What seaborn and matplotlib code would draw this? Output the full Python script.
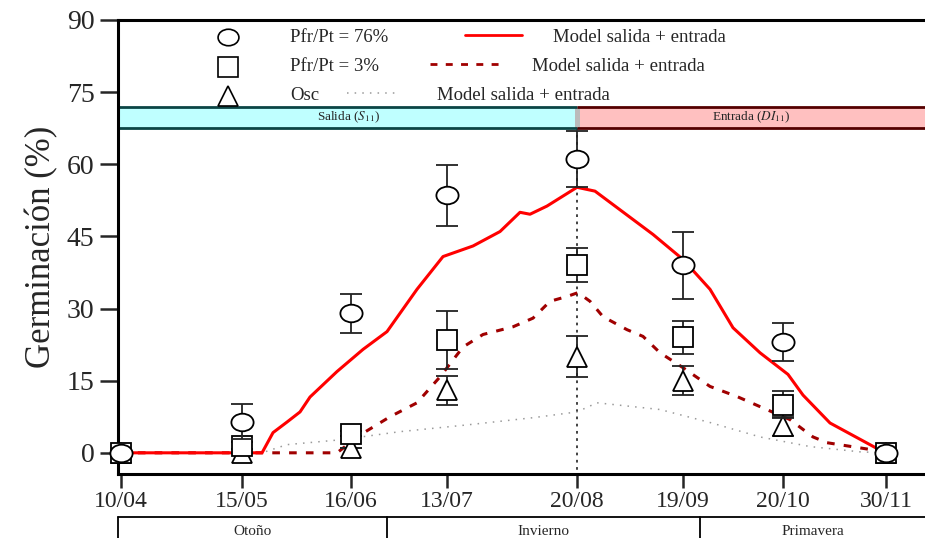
import numpy as np
import pandas as pd
import seaborn as sns
import matplotlib.pyplot as plt
from matplotlib.path import Path
from matplotlib.transforms import Affine2D, blended_transform_factory
from matplotlib.patches import Rectangle

# fechas de muestreo y su posicion en el eje (tiempo acumulado)
fechas = ["10/04", "15/05", "16/06", "13/07", "20/08", "19/09", "20/10", "30/11"]
t_fechas = [0, 121, 230, 326, 456, 562, 662, 765]

# germinacion observada (%) y desvio
pfr76 = [0, 6.5, 29, 53.5, 61, 39, 23, 0]
pfr76_err = [0, 3.7, 4, 6.3, 5.8, 7, 4, 0]
pfr3 = [0, 1.5, 4, 23.5, 39, 24, 10, 0]
pfr3_err = [0, 0.7, 0.5, 6, 3.5, 3.5, 2.8, 0]
osc = [0, 0, 1, 13, 20, 15, 5.5, 0]
osc_err = [0, 0, 0, 3, 4.3, 3, 2, 0]

# modelo salida + entrada
mod76_t = [0, 141, 152, 166, 179, 189, 216, 242, 266, 296, 322, 352, 379, 399, 409, 426,
           456, 474, 532, 562, 589, 612, 639, 667, 682, 709, 764]
mod76_y = [0, 0, 4.2, 6.4, 8.5, 11.6, 16.9, 21.5, 25.2, 34, 40.8, 43, 46, 50, 49.6, 51.3,
           55.2, 54.4, 45.4, 40.2, 34, 26, 20.8, 16.3, 12, 6.2, 0]
mod3_t = [0, 216, 239, 269, 296, 319, 342, 362, 392, 412, 429, 446, 457, 469, 482, 506,
          522, 539, 562, 589, 616, 639, 669, 692, 706, 752, 764]
mod3_y = [0, 0, 3.7, 7.5, 10.4, 15.8, 22, 24.6, 26.2, 28, 31.5, 32.5, 33.3, 31.5, 28.3, 25.6,
          24.2, 20.8, 17.7, 13.8, 11.7, 9.6, 6.9, 3.3, 2.1, 0.6, 0]
modosc_t = [0, 141, 166, 219, 279, 346, 412, 456, 476, 539, 589, 639, 689, 739, 764]
modosc_y = [0, 0, 1.7, 2.7, 4.4, 5.8, 7.3, 8.5, 10.4, 9, 6.3, 3.3, 1.3, 0.2, 0]

# estaciones
estaciones = ["Otoño", "Invierno", "Primavera"]
limites_est = [-3, 266, 579, 804]
t_cambio = 456  # salida -> entrada

sns.set_style("ticks")
plt.rcParams['font.family'] = ['Liberation Serif', 'DejaVu Serif']
plt.rcParams['mathtext.fontset'] = 'stix'

fig = plt.figure(figsize=(9.25, 5.38), dpi=100)
ax = fig.add_axes([0.1276, 0.119, 0.8724, 0.844])

# curvas del modelo
df_mod = pd.concat([
    pd.DataFrame({"t": mod76_t, "g": mod76_y, "serie": "76"}),
    pd.DataFrame({"t": mod3_t, "g": mod3_y, "serie": "3"}),
    pd.DataFrame({"t": modosc_t, "g": modosc_y, "serie": "osc"}),
])
sns.lineplot(data=df_mod[df_mod.serie == "osc"], x="t", y="g", color="#9a9a9a", lw=1.1,
             linestyle=(0, (1, 4)), ax=ax, sort=False, zorder=2)
sns.lineplot(data=df_mod[df_mod.serie == "3"], x="t", y="g", color="#a00000", lw=2.2,
             linestyle=(0, (2.5, 3)), ax=ax, sort=False, zorder=3)
sns.lineplot(data=df_mod[df_mod.serie == "76"], x="t", y="g", color="red", lw=2.2,
             ax=ax, sort=False, zorder=3)

# linea vertical en el cambio
ax.vlines(t_cambio, -5, 67.5, colors="#333333", linestyles=(0, (1.5, 2.5)), lw=1.3, zorder=1)

# observados con barras de error (triangulos abajo, circulos arriba)
elipse = Path.unit_circle().transformed(Affine2D().scale(1.2, 0.95))
obs = [(osc, osc_err, "^", 14), (pfr3, pfr3_err, "s", 14), (pfr76, pfr76_err, elipse, 16)]
for k, (vals, err, mk, ms) in enumerate(obs):
    ax.errorbar(t_fechas, vals, yerr=err, fmt="none", ecolor="#222222", elinewidth=1.3,
                capsize=8, capthick=1.3, zorder=4 + 2 * k)
    ax.plot(t_fechas, vals, linestyle="none", marker=mk, ms=ms, mfc="white", mec="black",
            mew=1.3, zorder=5 + 2 * k, clip_on=False)

# banda salida / entrada
ax.add_patch(Rectangle((-3, 67.6), t_cambio + 3, 4.3, facecolor="#bfffff", edgecolor="none", zorder=1))
ax.add_patch(Rectangle((t_cambio, 67.6), 810 - t_cambio, 4.3, facecolor="#ffc0c0", edgecolor="none", zorder=1))
ax.add_patch(Rectangle((t_cambio - 2, 67.6), 5, 4.3, facecolor="#bbbbbb", edgecolor="none", zorder=1))
ax.hlines([67.6, 71.9], -3, t_cambio, colors="#0b4545", lw=2, zorder=2)
ax.hlines([67.6, 71.9], t_cambio, 810, colors="#550000", lw=2, zorder=2)
ax.text(t_cambio / 2, 69.75, r"Salida ($S_{11}$)", ha="center", va="center", fontsize=9.5)
ax.text((t_cambio + 804) / 2, 69.75, r"Entrada ($DI_{11}$)", ha="center", va="center", fontsize=9.5)

# leyenda
tr = ax.transAxes
filas = [0.962, 0.897, 0.833]
fs_ley = 13.5
for y, mk, lab, ms in zip(filas, [elipse, "s", "^"], ["Pfr/Pt = 76%", "Pfr/Pt = 3%", "Osc"],
                          [15, 14, 14]):
    ax.plot([0.136], [y], transform=tr, marker=mk, ms=ms, mfc="white", mec="black", mew=1.2,
            clip_on=False)
    ax.text(0.213, y, lab, transform=tr, va="center", fontsize=fs_ley)
ax.plot([0.43, 0.50], [filas[0] + 0.005] * 2, transform=tr, color="red", lw=2)
ax.text(0.539, filas[0], "Model salida + entrada", transform=tr, va="center", fontsize=fs_ley)
ax.plot([0.387, 0.48], [filas[1] + 0.005] * 2, transform=tr, color="#a00000", lw=2,
        linestyle=(0, (2.5, 3)))
ax.text(0.513, filas[1], "Model salida + entrada", transform=tr, va="center", fontsize=fs_ley)
ax.plot([0.284, 0.348], [filas[2] + 0.005] * 2, transform=tr, color="#9a9a9a", lw=1.1,
        linestyle=(0, (1, 4)))
ax.text(0.395, filas[2], "Model salida + entrada", transform=tr, va="center", fontsize=fs_ley)

# estaciones debajo del eje
btr = blended_transform_factory(ax.transData, ax.transAxes)
ax.plot([limites_est[0], limites_est[-1] + 10], [-0.095, -0.095], transform=btr, color="black",
        lw=1.3, clip_on=False)
for i, est in enumerate(estaciones):
    ax.plot([limites_est[i]] * 2, [-0.095, -0.2], transform=btr, color="black", lw=1.3,
            clip_on=False)
    ax.text((limites_est[i] + limites_est[i + 1]) / 2, -0.127, est, transform=btr,
            ha="center", va="center", fontsize=11)

# ejes
ax.set_xlim(-3, 804)
ax.set_ylim(-4.4, 90)
ax.set_xticks(t_fechas)
ax.set_xticklabels(fechas, fontsize=17)
ax.set_yticks([0, 15, 30, 45, 60, 75, 90])
ax.tick_params(axis="y", labelsize=20, length=13, width=1.8, pad=4)
ax.tick_params(axis="x", length=10, width=1.8, pad=2)
ax.set_xlabel("")
ax.set_ylabel("Germinación (%)", fontsize=25, labelpad=6)
for s in ["left", "bottom", "top"]:
    ax.spines[s].set_linewidth(2.2)
    ax.spines[s].set_color("black")
ax.spines["right"].set_visible(False)

fig.savefig("out.png", dpi=100)
